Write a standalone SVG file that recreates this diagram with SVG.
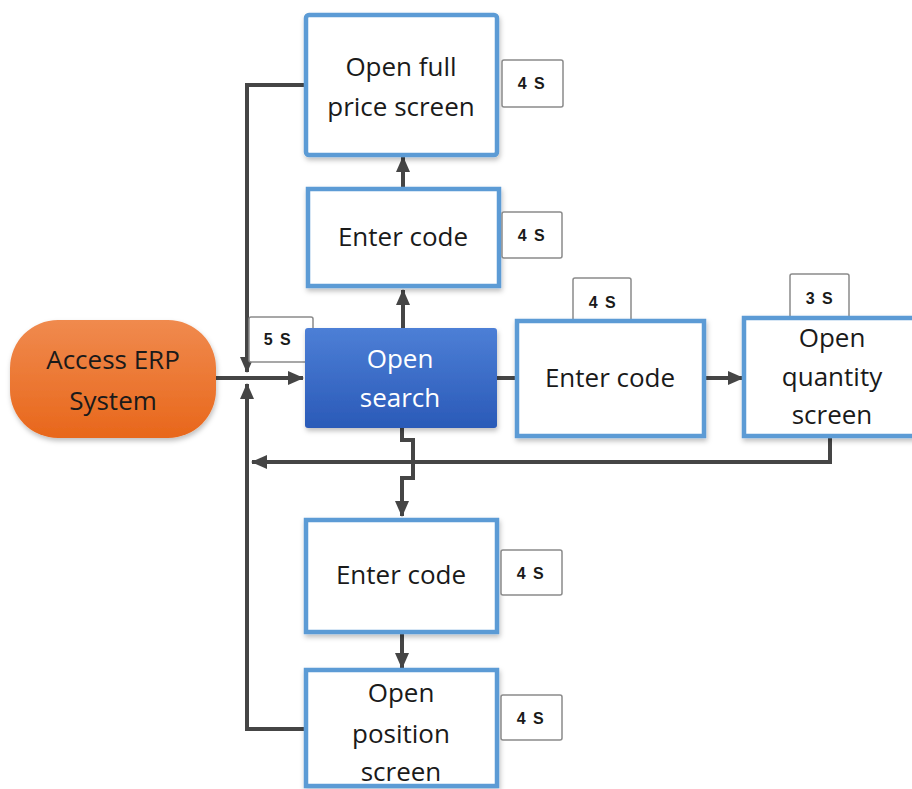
<svg xmlns="http://www.w3.org/2000/svg" width="912" height="789" viewBox="0 0 912 789">
<defs>
  <linearGradient id="gOrange" x1="0" y1="0" x2="0" y2="1">
    <stop offset="0" stop-color="#f08a4e"/>
    <stop offset="1" stop-color="#e8671b"/>
  </linearGradient>
  <linearGradient id="gBlue" x1="0" y1="0" x2="0" y2="1">
    <stop offset="0" stop-color="#4d7fd6"/>
    <stop offset="1" stop-color="#2a5ab8"/>
  </linearGradient>
  <filter id="sh" x="-10%" y="-10%" width="125%" height="130%">
    <feDropShadow dx="1" dy="3" stdDeviation="2.5" flood-color="#000" flood-opacity="0.25"/>
  </filter>
  <marker id="arr" markerUnits="userSpaceOnUse" markerWidth="16" markerHeight="16" viewBox="0 0 16 16" refX="15" refY="8" orient="auto">
    <path d="M0,1 L16,8 L0,15 Z" fill="#454545"/>
  </marker>
  <style>
    .box{fill:#fff;stroke:#5b9bd5;stroke-width:4.5;filter:url(#sh)}
    .t{font-family:"Open Sans","Noto Sans",sans-serif;font-size:26px;fill:#1a1a1a;text-anchor:middle}
    .tw{fill:#fff}
    .lbl{fill:#fff;stroke:#8a8a8a;stroke-width:1.5}
    .lt{font-family:"Liberation Sans",Arial,sans-serif;font-size:16px;font-weight:bold;letter-spacing:1.5px;fill:#1a1a1a;text-anchor:middle}
    .c{fill:none;stroke:#454545;stroke-width:4}
    .ca{fill:none;stroke:#454545;stroke-width:4;marker-end:url(#arr)}
  </style>
</defs>
<rect width="912" height="789" fill="#fff"/>

<g id="connectors">
  <polyline class="ca" points="305,85 247,85 247,372"/>
  <polyline class="ca" points="305,729 247,729 247,384"/>
  <polyline class="ca" points="216,378 303,378"/>
  <polyline class="ca" points="830,437 830,462 252,462"/>
  <polyline class="ca" points="403,328 403,290"/>
  <polyline class="ca" points="403,188 403,157"/>
  <polyline class="c" points="497,378 515,378" stroke="#3a4a60"/>
  <polyline class="ca" points="701,378 743,378"/>
  <polyline class="ca" points="402,428 402,440 413,440 413,478 402,478 402,516"/>
  <polyline class="ca" points="402,633 402,668"/>
</g>

<g id="label-5s">
  <rect class="lbl" x="249" y="317" width="64" height="45" rx="2"/>
  <text class="lt" x="278" y="345">5 S</text>
</g>

<g id="access-erp">
  <rect x="10" y="320" width="206" height="118" rx="48" fill="url(#gOrange)" filter="url(#sh)"/>
  <text class="t" x="113" y="369">Access ERP</text>
  <text class="t" x="113" y="410">System</text>
</g>

<g id="open-search">
  <rect x="305" y="328" width="192" height="100" rx="3" fill="url(#gBlue)" filter="url(#sh)"/>
  <text class="t tw" x="400" y="368">Open</text>
  <text class="t tw" x="400" y="407">search</text>
</g>

<g id="open-full-price">
  <rect class="box" x="306" y="15" width="191" height="140" rx="3"/>
  <text class="t" x="401" y="76">Open full</text>
  <text class="t" x="401" y="116">price screen</text>
  <rect class="lbl" x="502" y="60" width="61" height="47" rx="2"/>
  <text class="lt" x="532" y="89">4 S</text>
</g>

<g id="enter-code-top">
  <rect class="box" x="308" y="189" width="191" height="97"/>
  <text class="t" x="403" y="246">Enter code</text>
  <rect class="lbl" x="502" y="212" width="60" height="46" rx="2"/>
  <text class="lt" x="532" y="241">4 S</text>
</g>

<g id="enter-code-right">
  <rect class="lbl" x="573" y="278" width="58" height="44" rx="2"/>
  <text class="lt" x="603" y="308">4 S</text>
  <rect class="box" x="517" y="321" width="187" height="115"/>
  <text class="t" x="610" y="387">Enter code</text>
</g>

<g id="open-quantity">
  <rect class="lbl" x="790" y="274" width="59" height="44" rx="2"/>
  <text class="lt" x="820" y="304">3 S</text>
  <rect class="box" x="744" y="318" width="172" height="118"/>
  <text class="t" x="832" y="347">Open</text>
  <text class="t" x="832" y="386">quantity</text>
  <text class="t" x="832" y="424">screen</text>
</g>

<g id="enter-code-bottom">
  <rect class="box" x="306" y="520" width="191" height="112"/>
  <text class="t" x="401" y="584">Enter code</text>
  <rect class="lbl" x="501" y="550" width="61" height="45" rx="2"/>
  <text class="lt" x="531" y="579">4 S</text>
</g>

<g id="open-position">
  <rect class="box" x="306" y="670" width="191" height="116"/>
  <text class="t" x="401" y="702">Open</text>
  <text class="t" x="401" y="743">position</text>
  <text class="t" x="401" y="781">screen</text>
  <rect class="lbl" x="501" y="695" width="61" height="45" rx="2"/>
  <text class="lt" x="531" y="724">4 S</text>
</g>
</svg>
